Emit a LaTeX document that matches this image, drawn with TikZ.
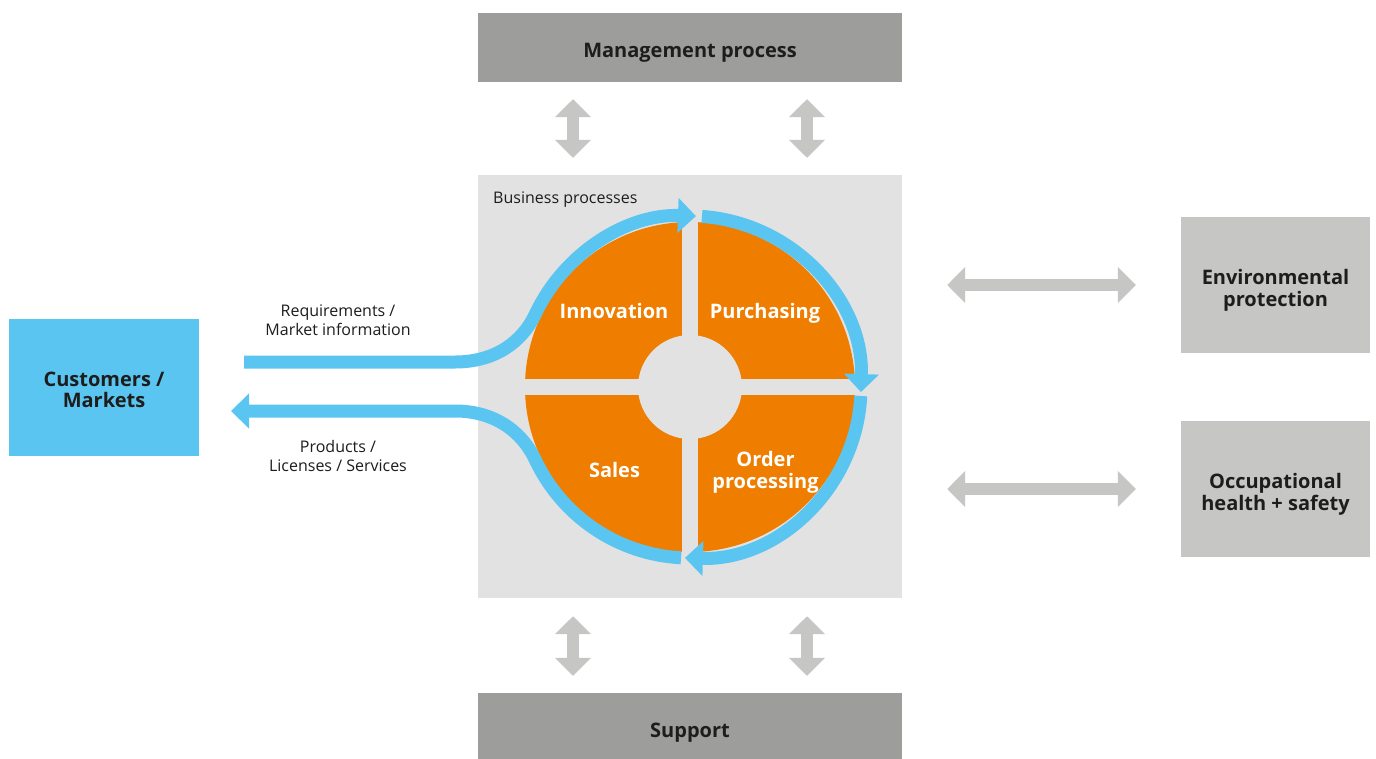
\documentclass[tikz,border=0pt]{standalone}
\usepackage{fontspec}
\setmainfont{Open Sans}
\usetikzlibrary{arrows.meta,calc}
\definecolor{cblue}{HTML}{5BC5F1}
\definecolor{cdark}{HTML}{9D9D9C}
\definecolor{clight}{HTML}{C6C6C5}
\definecolor{cbg}{HTML}{E2E2E2}
\definecolor{corange}{HTML}{EF7D00}
\definecolor{ctext}{HTML}{1D1D1B}
\tikzset{
  box/.style={fill=#1, draw=none, inner sep=0pt},
  boxtext/.style={anchor=base, text=ctext, align=center, inner sep=0pt, font=\fontsize{20}{22}\selectfont\bfseries},
  qlabel/.style={anchor=base, text=white, align=center, inner sep=0pt, font=\fontsize{20}{22}\selectfont\bfseries},
  smalllabel/.style={anchor=base, text=ctext, align=center, inner sep=0pt, font=\fontsize{16}{19}\selectfont},
  grayarr/.style={draw=clight, line width=12pt, {Triangle[length=18pt,width=35pt]}-{Triangle[length=18pt,width=35pt]}},
  bluearr/.style={draw=cblue, line width=13pt, -{Triangle[length=18pt,width=34pt]}}
}
\begin{document}
\begin{tikzpicture}[x=1pt,y=-1pt]
\useasboundingbox[fill=white] (0,0) rectangle (1376,758);
% boxes
\node[box=cdark, minimum width=424pt, minimum height=69pt] (mgmt) at (690,47.5) {};
\node[box=cdark, minimum width=424pt, minimum height=66pt] (supp) at (690,726) {};
\node[box=cbg, minimum width=424pt, minimum height=423pt] (bp) at (690,386.5) {};
\node[box=cblue, minimum width=190pt, minimum height=137pt] (cust) at (104,387.5) {};
\node[box=clight, minimum width=189pt, minimum height=136pt] (env) at (1275.5,285) {};
\node[box=clight, minimum width=189pt, minimum height=136pt] (occ) at (1275.5,489) {};
\node[boxtext] (mgmt-t) at (690,57) {Management process};
\node[boxtext] (supp-t) at (690,737) {Support};
\node[boxtext, font=\fontsize{20}{21.5}\selectfont\bfseries] (cust-t) at (104,407.5) {Customers /\\Markets};
\node[boxtext] (env-t) at (1275.5,306) {Environmental\\protection};
\node[boxtext] (occ-t) at (1275.5,510) {Occupational\\health + safety};
\node[smalllabel, anchor=base west] (bplabel) at (493,203) {Business processes};
% circle
\coordinate (c) at (690,387);
\fill[corange] (c) circle[radius=165];
\fill[cbg] (682,210) rectangle (698,564);
\fill[cbg] (515,379) rectangle (865,395);
\fill[cbg] (c) circle[radius=52];
\node[qlabel] (innov) at (614,318) {Innovation};
\node[qlabel] (purch) at (765,318) {Purchasing};
\node[qlabel] (sales) at (614.5,477) {Sales};
\node[qlabel] (order) at (765.5,488) {Order\\processing};
% gray double arrows
\draw[grayarr, shorten <=17pt, shorten >=17pt] ([xshift=-117pt]mgmt.south) -- ([xshift=-117pt]bp.north);
\draw[grayarr, shorten <=17pt, shorten >=17pt] ([xshift=117pt]mgmt.south) -- ([xshift=117pt]bp.north);
\draw[grayarr, shorten <=18pt, shorten >=17pt] ([xshift=-117pt]bp.south) -- ([xshift=-117pt]supp.north);
\draw[grayarr, shorten <=18pt, shorten >=17pt] ([xshift=117pt]bp.south) -- ([xshift=117pt]supp.north);
\draw[grayarr, shorten <=45pt, shorten >=45pt] (bp.east |- env.west) -- (env.west);
\draw[grayarr, shorten <=45pt, shorten >=45pt] (bp.east |- occ.west) -- (occ.west);
% blue flows
\coordinate (in0) at (244,362);
\coordinate (out1) at (231,411);
\draw[bluearr] (in0) -- (455,362) .. controls (495,362) and (522,342) .. ($(c)+(205:171)$) arc[start angle=205, end angle=272, radius=171];
\draw[bluearr] ($(c)+(274:171)$) arc[start angle=274, end angle=361.7, radius=171];
\draw[bluearr] ($(c)+(3:171)$) arc[start angle=3, end angle=91.7, radius=171];
\draw[bluearr] ($(c)+(93:171)$) arc[start angle=93, end angle=155, radius=171] .. controls (522,432) and (495,411) .. (455,411) -- (out1);
% flow labels
\node[smalllabel] (req) at (338,335) {Requirements /\\Market information};
\node[smalllabel] (prod) at (338,471) {Products /\\Licenses / Services};
\end{tikzpicture}
\end{document}
